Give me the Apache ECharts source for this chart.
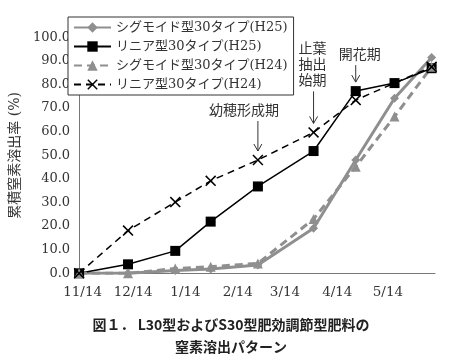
<!DOCTYPE html>
<html><head><meta charset="utf-8">
<script src="https://cdn.jsdelivr.net/npm/echarts@6/dist/echarts.min.js"></script>
<style>html,body{margin:0;padding:0;background:#fff}#c{width:462px;height:362px}</style>
</head><body><div id="c"></div>
<script>
// ---- data ----
const sampleDates = ['11/14','12/13','1/10','1/31','2/28','4/2','4/27','5/20','6/11'];
const seriesNames = ['シグモイド型30タイプ(H25)','リニア型30タイプ(H25)','シグモイド型30タイプ(H24)','リニア型30タイプ(H24)'];
const sigmoidH25 = [0, 0, 1.2, 1.8, 3.5, 19.1, 48.0, 74.2, 91.4];
const linearH25  = [0, 3.8, 9.5, 21.9, 36.8, 51.8, 77.2, 80.6, 86.9];
const sigmoidH24 = [0, 0, 2.0, 2.8, 4.2, 23.0, 45.2, 66.4, 87.5];
const linearH24  = [0, 18.1, 30.2, 39.2, 48.0, 59.7, 73.4, null, 87.5];
const xTickLabels = ['11/14','12/14','1/14','2/14','3/14','4/14','5/14'];
const xAxisEnd = '6/13';
const yTicks = [0,10,20,30,40,50,60,70,80,90,100];
const yAxisName = '累積窒素溶出率 (%)';
const titleLines = ['図１． L30型およびS30型肥効調節型肥料の','窒素溶出パターン'];
const annotations = [
  {text:'幼穂形成期', series:3, index:4},
  {text:'止葉\n抽出\n始期', series:3, index:5},
  {text:'開花期', series:1, index:6}
];

// ---- helpers ----
function dayOffset(md){
  const [m,d] = md.split('/').map(Number);
  const y = m >= 11 ? 2012 : 2013;
  return (Date.UTC(y, m-1, d) - Date.UTC(2012, 10, 14)) / 86400000;
}
const xs = sampleDates.map(dayOffset);
const pairs = vals => vals.map((v,i) => [xs[i], v]);
const tickVals = xTickLabels.map(dayOffset);

const serif = "'DejaVu Serif','Noto Sans CJK JP',serif";
const GRAY = '#8f8f8f';
const XPATH = 'path://M0,1 L1,0 L5,4 L9,0 L10,1 L6,5 L10,9 L9,10 L5,6 L1,10 L0,9 L4,5 Z';

const seriesValues = [sigmoidH25, linearH25, sigmoidH24, linearH24];
const styles = [
  {symbol:'diamond', symbolSize:9, color:GRAY, lineStyle:{color:GRAY, width:3, type:'solid'}},
  {symbol:'rect', symbolSize:10, color:'#000', lineStyle:{color:'#000', width:1.5, type:'solid'}},
  {symbol:'triangle', symbolSize:10, color:GRAY, lineStyle:{color:GRAY, width:3, type:[8,5]}},
  {symbol:XPATH, symbolSize:11, color:'#000', lineStyle:{color:'#000', width:1.5, type:[7,5]}}
];

const chart = echarts.init(document.getElementById('c'), null, {renderer:'canvas'});
chart.setOption({
  animation:false,
  backgroundColor:'#fff',
  grid:{left:62.5, right:27, top:37.3, bottom:88.7, containLabel:false},
  title:{
    text: titleLines.join('\n'), left:'center', top:309,
    textStyle:{fontFamily:"'Noto Sans CJK JP'", fontSize:14, fontWeight:'bold', color:'#222', lineHeight:22}
  },
  legend:{
    orient:'vertical', left:68, top:17, itemWidth:37, itemHeight:13, itemGap:6,
    padding:[4,6,4,5], borderColor:'#333', borderWidth:1, backgroundColor:'#fff',
    data: seriesNames,
    textStyle:{fontFamily:serif, fontSize:13, color:'#333'}
  },
  xAxis:{
    type:'value', min:0, max:dayOffset(xAxisEnd),
    axisLine:{lineStyle:{color:'#777', width:1}},
    axisTick:{show:false},
    splitLine:{show:false},
    axisLabel:{
      customValues: tickVals,
      formatter: v => xTickLabels[tickVals.indexOf(v)] || '',
      fontFamily:serif, fontSize:13.5, color:'#333', margin:12, padding:[0,0,0,7]
    }
  },
  yAxis:{
    type:'value', min:0, max:100, interval:10,
    name:yAxisName, nameLocation:'middle', nameGap:44, nameRotate:90,
    nameTextStyle:{fontFamily:serif, fontSize:14, color:'#333'},
    axisLine:{show:true, lineStyle:{color:'#777', width:1}},
    axisTick:{show:false},
    splitLine:{show:false},
    axisLabel:{formatter: v => v.toFixed(1), fontFamily:serif, fontSize:13, color:'#333', margin:9}
  },
  series: seriesNames.map((n,i) => ({
    name:n, type:'line', data:pairs(seriesValues[i]), connectNulls:true,
    symbol:styles[i].symbol, symbolSize:styles[i].symbolSize,
    itemStyle:{color:styles[i].color},
    lineStyle:styles[i].lineStyle
  }))
});

// annotations anchored to data points
const annStyle = [
  {gap:9, len:30, dx:-14},
  {gap:9, len:32, dx:-1},
  {gap:9, len:17, dx:4}
];
const graphics = [];
annotations.forEach((a,k) => {
  const x = xs[a.index], y = seriesValues[a.series][a.index];
  const p = chart.convertToPixel({gridIndex:0}, [x, y]);
  const s = annStyle[k];
  const tip = p[1] - s.gap, top = tip - s.len;
  graphics.push({type:'line', shape:{x1:p[0], y1:top, x2:p[0], y2:tip}, style:{stroke:'#333', lineWidth:1}});
  graphics.push({type:'polyline', shape:{points:[[p[0]-4, tip-7],[p[0], tip],[p[0]+4, tip-7]]}, style:{stroke:'#333', lineWidth:1, fill:null}});
  graphics.push({type:'text', x:p[0]+s.dx, y:top-2, style:{text:a.text, fontFamily:serif, fontSize:14, fill:'#333', textAlign:'center', textVerticalAlign:'bottom', lineHeight:16}});
});
chart.setOption({graphic:graphics});
</script></body></html>
